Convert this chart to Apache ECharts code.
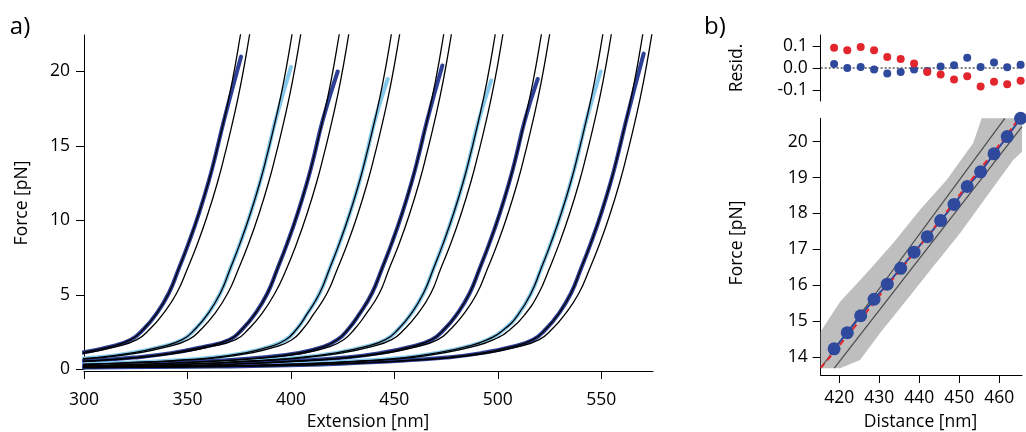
<!DOCTYPE html>
<html>
<head>
<meta charset="utf-8">
<script src="https://cdn.jsdelivr.net/npm/echarts@6/dist/echarts.min.js"></script>
<style>
  html, body { margin: 0; padding: 0; background: #fff; }
  #chart { width: 1026px; height: 432px; }
</style>
</head>
<body>
<div id="chart"></div>
<script>
// ---------- Panel a: force–extension traces with paired model curves ----------
// Force levels (pN) at which each curve's extension (nm) is listed.
const forceLevels = [0.13, 0.2, 0.3, 0.45, 0.6, 0.8, 1.1, 1.5, 2.0, 2.75, 3.66, 5.1, 6.7, 8.5, 10.5, 12.7, 14.4, 16.7, 19.3, 22.45, 24.2];

// Left (shorter) curve of each pair, extension in nm at each force level.
const curveLeft = [
  [null, null, null, null, null, 280.6, 297.6, 311.6, 322.6, 329.1, 334.6, 340.9, 345.6, 350.6, 355.6, 360.4, 363.6, 367.6, 371.6, 375.6, 377.6],
  [null, null, null, null, 285, 305.5, 322.5, 336.5, 347.5, 354.0, 359.5, 365.8, 370.5, 375.5, 380.5, 385.3, 388.5, 392.5, 396.5, 400.5, 402.5],
  [null, null, null, 285, 305, 324, 342, 357, 370.3, 376.8, 382.3, 388.6, 393.3, 398.3, 403.3, 408.1, 411.3, 415.3, 419.3, 423.3, 425.3],
  [null, null, 290, 320, 343, 362, 377, 389, 397.5, 403, 407.5, 413.8, 418.5, 423.5, 428.5, 433.3, 436.5, 440.5, 444.5, 448.5, 450.5],
  [null, 275, 312, 345, 366, 386, 403, 415, 422.5, 428, 432.8, 439.1, 443.8, 448.8, 453.8, 458.6, 461.8, 465.8, 469.8, 473.8, 475.8],
  [null, 295, 335, 364, 384, 404, 421, 435, 445.7, 452.2, 457.7, 464.0, 468.7, 473.7, 478.7, 483.5, 486.7, 490.7, 494.7, 498.7, 500.7],
  [280, 317, 357, 386, 406, 426, 443, 457, 468.0, 474.5, 480.0, 486.3, 491.0, 496.0, 501.0, 505.8, 509.0, 513.0, 517.0, 521.0, 523.0],
  [300, 346, 386, 416, 436, 455, 470, 484, 495, 503.5, 509.7, 516.0, 520.7, 525.7, 530.7, 535.5, 538.7, 542.7, 546.7, 550.7, 552.7],
  [298, 365, 405, 433, 455, 475, 492, 506, 517, 523.5, 529.0, 535.3, 540.0, 545.0, 550.0, 554.8, 558.0, 562.0, 566.0, 570.0, 572.0]
];

// Right (longer) curve of each pair.
const curveRight = [
  [null, null, null, null, null, 283.6, 300.6, 314.6, 325.6, 332.1, 337.8, 344.7, 349.8, 355.0, 360.0, 364.8, 368.0, 372.0, 376.0, 380.0, 382.0],
  [null, null, null, null, 288, 308.5, 325.5, 339.5, 350.5, 357.0, 362.7, 369.4, 374.5, 379.7, 384.7, 389.5, 392.7, 396.7, 400.7, 404.7, 406.7],
  [null, null, null, 288, 308, 327, 345, 360, 373.3, 379.8, 385.5, 392.2, 397.7, 402.9, 407.9, 412.7, 415.9, 419.9, 423.9, 427.9, 429.9],
  [null, null, 293, 323, 346, 365, 380, 392, 400.5, 406, 410.7, 417.4, 422.3, 427.5, 432.5, 437.3, 440.5, 444.5, 448.5, 452.5, 454.5],
  [null, 278, 315, 348, 369, 389, 406, 418, 425.5, 431, 436.0, 442.7, 447.3, 452.5, 457.5, 462.3, 465.5, 469.5, 473.5, 477.5, 479.5],
  [null, 298, 338, 367, 387, 407, 424, 438, 448.7, 455.2, 460.9, 467.6, 472.2, 477.4, 482.4, 487.2, 490.4, 494.4, 498.4, 502.4, 504.4],
  [283, 320, 360, 389, 409, 429, 446, 460, 471.0, 477.5, 483.2, 489.9, 494.8, 500.0, 505.0, 509.8, 513.0, 517.0, 521.0, 525.0, 527.0],
  [303, 349, 389, 419, 439, 458, 473, 487, 498, 506.5, 512.9, 519.7, 524.7, 529.8, 534.8, 539.6, 542.8, 546.8, 550.8, 554.8, 556.8],
  [300, 368, 408, 436, 458, 478, 495, 509, 520, 526.5, 532.2, 539.1, 544.2, 549.4, 554.4, 559.2, 562.4, 566.4, 570.4, 574.4, 576.4]
];

// Measured traces alternate dark / light blue; each ends at its highest recorded point.
const traceShade = ['dark', 'light', 'dark', 'light', 'dark', 'light', 'dark', 'light', 'dark'];
const traceEnd = [[375.9, 21.0], [400.0, 20.3], [422.6, 20.0], [446.8, 19.5], [473.2, 20.4], [496.8, 19.4], [519.3, 19.5], [549.7, 20.0], [570.5, 21.2]];

const extensionTicks = [300, 350, 400, 450, 500, 550];
const forceTicksA = [0, 5, 10, 15, 20];

// ---------- Panel b: binned force vs distance, fits and residuals ----------
const binDistance = [418.7, 422.0, 425.35, 428.7, 432.0, 435.35, 438.7, 442.0, 445.35, 448.7, 452.0, 455.35, 458.7, 462.0, 465.35];
const binForce = [14.23, 14.68, 15.15, 15.61, 16.03, 16.47, 16.92, 17.35, 17.80, 18.25, 18.75, 19.16, 19.66, 20.14, 20.65];
const residRed = [0.092, 0.081, 0.095, 0.081, 0.050, 0.041, 0.021, -0.018, -0.030, -0.052, -0.037, -0.084, -0.062, -0.074, -0.058];
const residBlue = [0.018, 0.0, 0.004, -0.007, -0.025, -0.018, -0.007, -0.014, 0.007, 0.013, 0.047, 0.004, 0.025, 0.003, 0.015];

// Red dashed fit through the binned data.
const redFitDistance = [415.35, 418.7, 425.35, 432.0, 438.7, 445.35, 452.0, 458.7, 465.35];
const redFitForce = [13.70, 14.14, 15.05, 15.98, 16.90, 17.83, 18.79, 19.72, 20.71];

// Two grey reference lines (start / end points).
const greyLineA = [[415.6, 13.73], [461.4, 20.65]];
const greyLineB = [[418.75, 13.69], [465.7, 20.42]];

// Outline of the raw high-rate force signal (grey band).
const bandUpper = [[415.35, 13.69], [415.35, 14.71], [420.2, 15.54], [426.85, 16.34], [433.5, 17.18], [440.2, 18.10], [446.85, 18.93], [453.5, 19.96], [455.6, 20.65], [465.7, 20.65]];
const bandLower = [[465.7, 19.72], [463.5, 19.49], [456.85, 18.47], [450.2, 17.45], [443.5, 16.52], [436.85, 15.59], [430.2, 14.67], [425.2, 13.92], [420.2, 13.69]];

const distanceTicks = [420, 430, 440, 450, 460];
const forceTicksB = [14, 15, 16, 17, 18, 19, 20];
const residTicks = [-0.1, 0, 0.1];

// ---------- styling ----------
const FONT = 'Open Sans';
const FS = 17.5;
const DARK = '#2c3f95';
const LIGHT = '#84c9ec';
const RED = '#e3262d';
const BLUE = '#2f4a9c';

function curvePoints(ext) {
  const pts = [];
  ext.forEach((x, i) => { if (x !== null) pts.push([x, forceLevels[i]]); });
  return pts;
}

function axisCommon(ticks, margin, fmt) {
  return {
    axisLine: { show: true, onZero: false, lineStyle: { color: '#000', width: 1 } },
    axisTick: { show: true, inside: false, length: 8, lineStyle: { color: '#000', width: 1 }, customValues: ticks },
    axisLabel: { show: true, margin: margin, color: '#000', fontSize: FS, fontFamily: FONT, customValues: ticks, formatter: fmt },
    splitLine: { show: false }
  };
}

const series = [];

// measured traces under the curves
curveLeft.forEach((ext, i) => {
  const pts = curvePoints(ext).filter(p => p[1] <= 16.7).concat([traceEnd[i]]);
  series.push({
    type: 'line', xAxisIndex: 0, yAxisIndex: 0, data: pts,
    showSymbol: false, symbol: 'none', smooth: 0.5,
    lineStyle: { color: traceShade[i] === 'dark' ? DARK : LIGHT, width: 4, cap: 'round' },
    silent: true, z: 2
  });
});

// paired model curves
[curveLeft, curveRight].forEach(set => set.forEach(ext => {
  series.push({
    type: 'line', xAxisIndex: 0, yAxisIndex: 0, data: curvePoints(ext),
    showSymbol: false, symbol: 'none', smooth: 0.5,
    lineStyle: { color: '#000', width: 1.3 },
    silent: true, z: 3
  });
}));

// grey band
series.push({
  type: 'custom', xAxisIndex: 2, yAxisIndex: 2, data: [[440, 17]], silent: true, z: 1,
  renderItem: function (params, api) {
    const pts = bandUpper.concat(bandLower).map(p => api.coord(p));
    return { type: 'polygon', shape: { points: pts }, style: { fill: '#bebebe', stroke: null } };
  }
});

// grey reference lines
[greyLineA, greyLineB].forEach(line => {
  series.push({
    type: 'line', xAxisIndex: 2, yAxisIndex: 2, data: line, symbol: 'none',
    lineStyle: { color: '#4a4a4a', width: 1.2 }, silent: true, z: 2
  });
});

// blue connecting line
series.push({
  type: 'line', xAxisIndex: 2, yAxisIndex: 2,
  data: binDistance.map((d, i) => [d, binForce[i]]), symbol: 'none',
  lineStyle: { color: BLUE, width: 2 }, silent: true, z: 3
});

// red dashed fit
series.push({
  type: 'line', xAxisIndex: 2, yAxisIndex: 2,
  data: redFitDistance.map((d, i) => [d, redFitForce[i]]), symbol: 'none', smooth: 0.3,
  lineStyle: { color: RED, width: 2, type: [6, 4] }, silent: true, z: 4
});

// binned points
series.push({
  type: 'scatter', xAxisIndex: 2, yAxisIndex: 2,
  data: binDistance.map((d, i) => [d, binForce[i]]), symbol: 'circle', symbolSize: 13,
  itemStyle: { color: BLUE, opacity: 1 }, silent: true, z: 5
});

// residuals: zero line and points
series.push({
  type: 'line', xAxisIndex: 1, yAxisIndex: 1, data: [[415.35, 0], [465.7, 0]], symbol: 'none',
  lineStyle: { color: '#000', width: 1, type: [2, 2] }, silent: true, z: 2
});
series.push({
  type: 'scatter', xAxisIndex: 1, yAxisIndex: 1,
  data: binDistance.map((d, i) => [d, residBlue[i]]), symbolSize: 8,
  itemStyle: { color: BLUE, opacity: 1 }, silent: true, z: 3
});
series.push({
  type: 'scatter', xAxisIndex: 1, yAxisIndex: 1,
  data: binDistance.map((d, i) => [d, residRed[i]]), symbolSize: 8,
  itemStyle: { color: RED, opacity: 1 }, silent: true, z: 4
});

function txt(x, y, text, size, rot) {
  return {
    type: 'text', x: x, y: y, rotation: rot || 0, silent: true,
    style: { text: text, fontSize: size, fontFamily: FONT, fill: '#000', align: 'center', verticalAlign: 'middle' }
  };
}

const option = {
  animation: false,
  backgroundColor: '#fff',
  textStyle: { fontFamily: FONT },
  grid: [
    { left: 84, top: 35, width: 569, height: 334.5 },
    { left: 820.7, top: 35, width: 201.3, height: 66 },
    { left: 820.7, top: 118.3, width: 201.3, height: 256.7 }
  ],
  xAxis: [
    Object.assign({ gridIndex: 0, type: 'value', min: 300, max: 575, offset: 1.5 }, axisCommon(extensionTicks, 20)),
    { gridIndex: 1, type: 'value', min: 415.35, max: 465.7, show: false },
    Object.assign({ gridIndex: 2, type: 'value', min: 415.35, max: 465.7 }, axisCommon(distanceTicks, 14))
  ],
  yAxis: [
    Object.assign({ gridIndex: 0, type: 'value', min: 0, max: 22.45 }, axisCommon(forceTicksA, 14)),
    Object.assign({ gridIndex: 1, type: 'value', min: -0.15, max: 0.15 }, axisCommon(residTicks, 13, v => v.toFixed(1))),
    Object.assign({ gridIndex: 2, type: 'value', min: 13.5, max: 20.65 }, axisCommon(forceTicksB, 13))
  ],
  series: series,
  graphic: [
    txt(20, 27, 'a)', 24),
    txt(715, 27, 'b)', 24),
    txt(22.5, 203, 'Force [pN]', FS, Math.PI / 2),
    txt(368, 422, 'Extension [nm]', FS),
    txt(737.5, 68, 'Resid.', FS, Math.PI / 2),
    txt(737.5, 243, 'Force [pN]', FS, Math.PI / 2),
    txt(920.5, 422, 'Distance [nm]', FS)
  ]
};

const chart = echarts.init(document.getElementById('chart'), null, { renderer: 'canvas' });
chart.setOption(option);
</script>
</body>
</html>
